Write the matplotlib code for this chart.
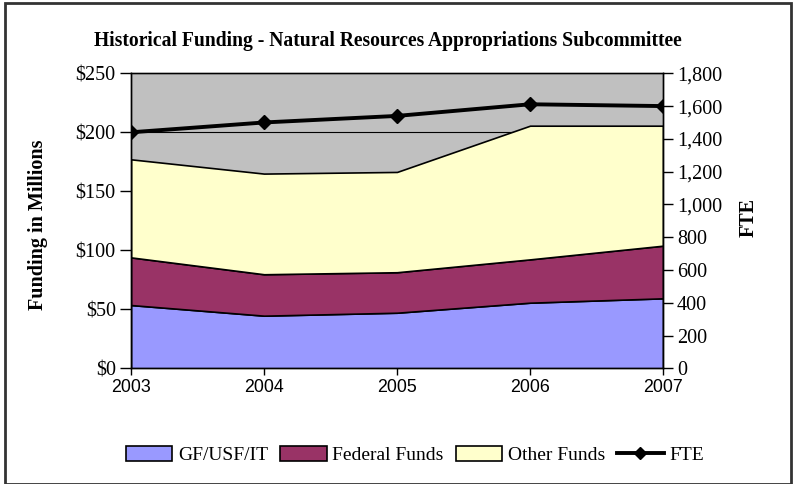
import matplotlib
matplotlib.use("Agg")
import matplotlib.pyplot as plt
from matplotlib.patches import Rectangle, Patch
from matplotlib.lines import Line2D
from matplotlib.ticker import FuncFormatter

plt.rcParams['font.family'] = ['Liberation Serif', 'DejaVu Serif']

years = ["2003", "2004", "2005", "2006", "2007"]
gf_usf_it = [53.6, 44.6, 47.1, 55.6, 59.3]
federal_funds = [40.4, 35.1, 34.3, 36.7, 44.6]
other_funds = [83.1, 85.3, 85.0, 113.3, 101.7]
fte = [1440, 1500, 1540, 1611, 1600]

W, H = 793, 484
fig = plt.figure(figsize=(W / 100, H / 100), dpi=100)
ax = fig.add_axes([131 / W, 1 - 368.3 / H, (663 - 131) / W, (368.3 - 73.3) / H])
ax.set_facecolor('#C0C0C0')

x = list(range(len(years)))
colors = ['#9999FF', '#993366', '#FFFFCC']
ax.stackplot(x, gf_usf_it, federal_funds, other_funds, colors=colors,
             edgecolor='black', linewidth=1.2, zorder=2)
ax.set_xlim(0, len(years) - 1)
ax.set_ylim(0, 250)
ax.set_yticks(range(0, 251, 50))
ax.yaxis.set_major_formatter(FuncFormatter(lambda v, p: f"${int(v)}"))
ax.grid(axis='y', color='black', linewidth=0.8, zorder=1)
ax.set_axisbelow(True)
ax.set_xticks(x)
ax.set_xticklabels(years, fontfamily=['Liberation Sans', 'DejaVu Sans'], fontsize=12.8)
ax.tick_params(axis='y', direction='out', length=8, width=1, labelsize=14.5, colors='black', pad=3)
ax.tick_params(axis='x', direction='out', length=5, width=1, colors='black', pad=2.5)
for s in ax.spines.values():
    s.set_linewidth(1)
    s.set_color('black')
ax.spines['top'].set_color('#555555')
ax.spines['top'].set_zorder(3)
ax.set_ylabel("Funding in Millions", fontsize=14.5, fontweight='bold')

ax2 = ax.twinx()
ax2.plot(x, fte, color='black', linewidth=2.8, marker='D', markersize=7, zorder=5)
ax2.set_ylim(0, 1800)
ax2.set_yticks(range(0, 1801, 200))
ax2.yaxis.set_major_formatter(FuncFormatter(lambda v, p: f"{int(v):,}"))
ax2.tick_params(axis='y', direction='out', length=7, width=1, labelsize=14.5, pad=3)
ax2.set_ylabel("FTE", fontsize=14.5, fontweight='bold')
for s in ax2.spines.values():
    s.set_linewidth(1)

# place axis titles at measured positions
ax.yaxis.set_label_coords((38 - 131) / (663 - 131), (368.3 - 225) / (368.3 - 73.3))
ax2.yaxis.set_label_coords((749 - 131) / (663 - 131), (368.3 - 218) / (368.3 - 73.3))
ax.yaxis.label.set_va('center')
ax2.yaxis.label.set_va('center')

fig.text(387.5 / W, 1 - 41 / H,
         "Historical Funding - Natural Resources Appropriations Subcommittee",
         ha='center', va='center', fontsize=14.1, fontweight='bold')

handles = [Patch(facecolor=c, edgecolor='black', linewidth=1.2) for c in colors]
handles.append(Line2D([0], [0], color='black', linewidth=2.8, marker='D', markersize=6))
labels = ["GF/USF/IT", "Federal Funds", "Other Funds", "FTE"]
fig.legend(handles, labels, loc='center', bbox_to_anchor=(415 / W, 1 - 455 / H),
           ncol=4, frameon=False, fontsize=14, handlelength=2.4, handleheight=0.8,
           handletextpad=0.3, columnspacing=0.6)

fig.patches.append(Rectangle((4.5 / W, 0), (791 - 4.5) / W, 1 - 2.5 / H,
                             transform=fig.transFigure, fill=False,
                             edgecolor='#333333', linewidth=2))

fig.savefig("out.png", dpi=100)
